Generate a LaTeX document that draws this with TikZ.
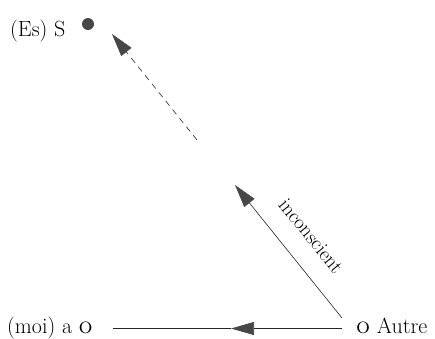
\documentclass[tikz,border=0pt]{standalone}
\usepackage{fontspec}
\usetikzlibrary{arrows.meta}
\begin{document}
\begin{tikzpicture}[x=1pt,y=-1pt,
  lbl/.style={inner sep=0pt, font=\fontsize{22}{26}\selectfont},
  lblsmall/.style={inner sep=0pt, font=\fontsize{20.5}{24}\selectfont},
  tiphead/.style={-{Triangle[length=23pt,width=13pt,fill=black!72,color=black!72]}},
  conn/.style={draw=black!85, line width=0.6pt},
  dot/.style={circle, fill=black!72, minimum size=12pt, inner sep=0pt}]
\useasboundingbox (0,0) rectangle (435,338);
% nodes
\node[lbl, anchor=base west] (es) at (10,36.5) {(Es) S};
\node[dot] (S) at (88,24) {};
\node[lbl, anchor=base west] (moi) at (7,333) {(moi) a \textsc{o}};
\node[lbl, anchor=base west] (autre) at (356,333) {\textsc{o} Autre};
% connector ends
\coordinate (dtip) at (112,34);
\coordinate (dstart) at (197,140);
\coordinate (stip) at (235,185);
\coordinate (sstart) at (342,318);
\coordinate (hend) at (342,328.5);
\coordinate (hmid) at (231,328.5);
\coordinate (hstart) at (113,328.5);
% connectors
\draw[conn, dash pattern=on 6pt off 5pt, tiphead] (dstart) -- (dtip);
\draw[conn, tiphead] (sstart) -- (stip);
\draw[conn] (hmid) -- (hstart);
\draw[conn, tiphead] (hend) -- (hmid);
% label
\node[lblsmall, rotate=-51] (inc) at (311,236) {inconscient};
\end{tikzpicture}
\end{document}
